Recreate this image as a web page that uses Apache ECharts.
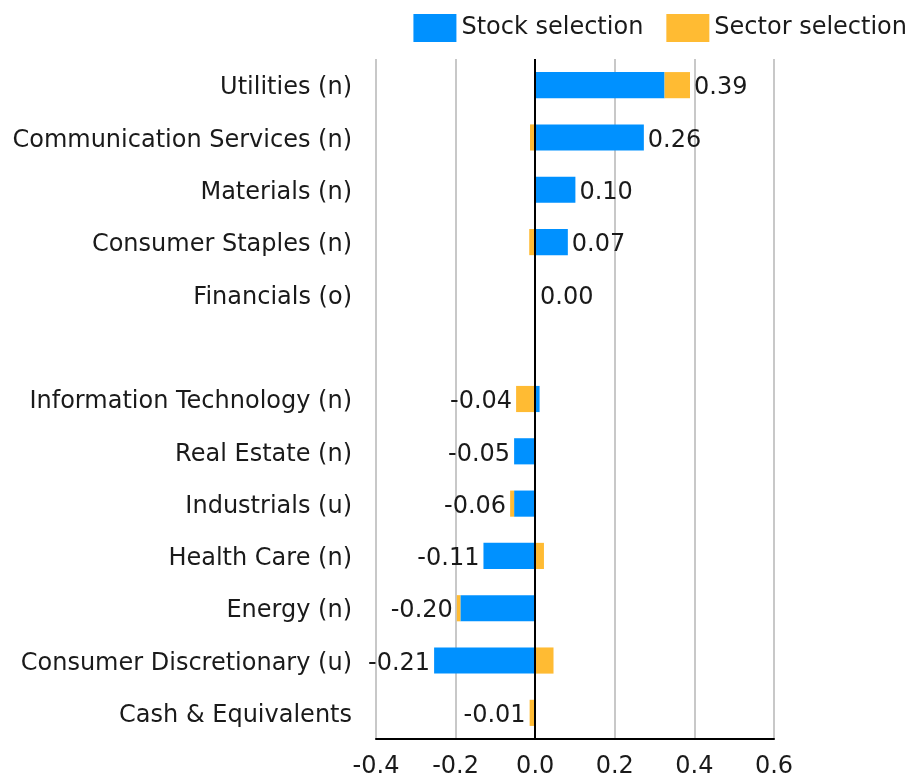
<!DOCTYPE html>
<html>
<head>
<meta charset="utf-8">
<script src="https://cdn.jsdelivr.net/npm/echarts@6/dist/echarts.min.js"></script>
<style>
  html, body { margin: 0; padding: 0; background: #fff; }
  #main { width: 914px; height: 779px; }
</style>
</head>
<body>
<div id="main"></div>
<script>
// sectors, top to bottom ('' is the blank spacer row)
const categories = [
  'Utilities (n)', 'Communication Services (n)', 'Materials (n)', 'Consumer Staples (n)',
  'Financials (o)', '', 'Information Technology (n)', 'Real Estate (n)', 'Industrials (u)',
  'Health Care (n)', 'Energy (n)', 'Consumer Discretionary (u)', 'Cash & Equivalents'
];
const stockSel = [0.325, 0.273, 0.101, 0.082, 0.002, null, 0.011, -0.053, -0.053, -0.130, -0.188, -0.254, 0];
const sectorSel = [0.064, -0.013, 0, -0.015, 0, null, -0.048, 0, -0.010, 0.022, -0.009, 0.046, -0.014];
const totals = [0.39, 0.26, 0.10, 0.07, 0.00, null, -0.04, -0.05, -0.06, -0.11, -0.20, -0.21, -0.01];

const ticks = [-0.4, 0.6, 0.2]; // min, max, step

const FONT = 'DejaVu Sans';
const FS = 24;
const INK = '#1a1a1a';

// total label sits at the end of the bar on the side of the total's sign
const labelData = totals.map((t, i) => {
  if (t === null) return null;
  const parts = [stockSel[i], sectorSel[i]];
  const end = t >= 0
    ? parts.filter(v => v > 0).reduce((a, b) => a + b, 0)
    : parts.filter(v => v < 0).reduce((a, b) => a + b, 0);
  return { value: end, label: { position: t < 0 ? 'left' : 'right' } };
});

const chart = echarts.init(document.getElementById('main'));

chart.setOption({
  animation: false,
  backgroundColor: '#fff',
  textStyle: { fontFamily: FONT },
  legend: {
    top: 9,
    right: 2,
    icon: 'rect',
    itemWidth: 43,
    itemHeight: 28,
    itemGap: 23,
    textStyle: { fontSize: FS, color: INK, fontFamily: FONT },
    data: ['Stock selection', 'Sector selection']
  },
  grid: { left: 376, right: 140, top: 59, bottom: 37, containLabel: false },
  xAxis: {
    type: 'value',
    min: ticks[0],
    max: ticks[1],
    interval: ticks[2],
    axisLine: { show: true, lineStyle: { color: '#000', width: 2 } },
    axisTick: { show: false },
    axisLabel: {
      fontSize: FS, color: INK, margin: 16, fontFamily: FONT,
      formatter: v => v.toFixed(1)
    },
    splitLine: { show: true, lineStyle: { color: '#c8c8c8', width: 2 } }
  },
  yAxis: {
    type: 'category',
    inverse: true,
    data: categories,
    axisLine: { show: false },
    axisTick: { show: false },
    axisLabel: {
      margin: 24,
      formatter: v => v ? '{c|' + v + '}' : '',
      rich: {
        c: { fontSize: FS, color: INK, fontFamily: FONT, padding: [6, 0, 0, 0] }
      }
    }
  },
  series: [
    {
      name: 'totals',
      type: 'bar',
      data: labelData,
      barWidth: '50%',
      barGap: '-100%',
      itemStyle: { color: 'rgba(0,0,0,0)' },
      silent: true,
      z: 1,
      label: {
        show: true,
        fontSize: FS,
        color: INK,
        fontFamily: FONT,
        distance: 4,
        offset: [0, 3],
        formatter: p => totals[p.dataIndex].toFixed(2)
      }
    },
    {
      name: 'Stock selection',
      type: 'bar',
      stack: 'attr',
      data: stockSel,
      barWidth: '50%',
      itemStyle: { color: '#0091ff' },
      z: 2,
      markLine: {
        silent: true,
        symbol: 'none',
        label: { show: false },
        lineStyle: { color: '#000', width: 2, type: 'solid' },
        data: [{ xAxis: 0 }]
      }
    },
    {
      name: 'Sector selection',
      type: 'bar',
      stack: 'attr',
      data: sectorSel,
      barWidth: '50%',
      itemStyle: { color: '#ffbb33' },
      z: 2
    }
  ]
});
</script>
</body>
</html>
